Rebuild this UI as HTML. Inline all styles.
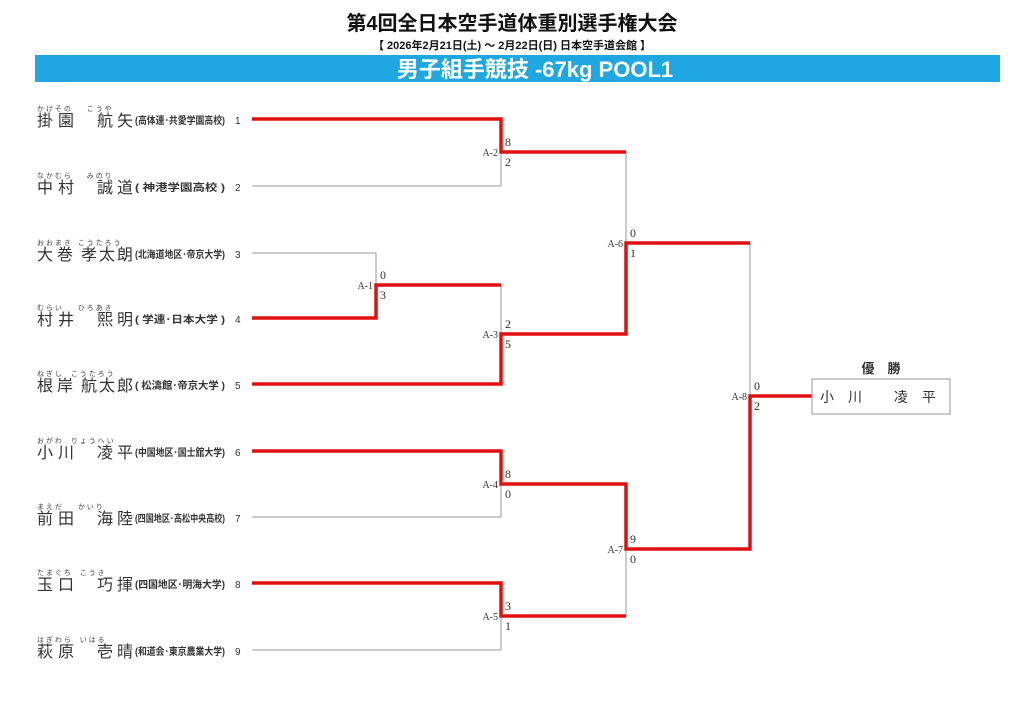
<!DOCTYPE html>
<html><head><meta charset="utf-8"><style>
html,body{margin:0;padding:0;background:#fff;}
svg{display:block;font-family:"Liberation Sans","Noto Sans CJK JP",sans-serif;}
.n{font-size:16px;fill:#333;}
.r{font-size:7px;fill:#444;}
.a{font-size:10px;fill:#333;font-weight:bold;}
.num{font-size:10px;fill:#333;}
.s{font-family:"Liberation Serif","Noto Serif CJK SC",serif;font-size:12px;fill:#333;}
.l{font-family:"Liberation Serif",serif;font-size:10px;fill:#333;}
.g{stroke:#999;stroke-width:1;fill:none;}
.red{stroke:#e01010;stroke-width:3.5;fill:none;}
</style></head><body>
<svg width="1024" height="724" viewBox="0 0 1024 724">
<text x="512" y="30" text-anchor="middle" font-size="20" font-weight="bold" fill="#111">第4回全日本空手道体重別選手権大会</text>
<text x="512" y="49" text-anchor="middle" font-size="11" font-weight="bold" fill="#111">【 2026年2月21日(土) ～ 2月22日(日)  日本空手道会館 】</text>
<rect x="35" y="55" width="965" height="27" fill="#1ea7e1"/>
<text x="535" y="77" text-anchor="middle" font-size="22" font-weight="bold" fill="#fff">男子組手競技 -67kg POOL1</text>

<g>
<text class="r" x="37" y="111">か け そ の　　 こ う や</text>
<text class="n" x="37" y="126">掛</text><text class="n" x="58" y="126">園</text><text class="n" x="97" y="126">航</text><text class="n" x="117" y="126">矢</text>
<text class="a" x="135" y="124" textLength="90" lengthAdjust="spacingAndGlyphs">(高体連･共愛学園高校)</text><text class="num" x="235" y="124">1</text>

<text class="r" x="37" y="178">な か む ら　　 み の り</text>
<text class="n" x="37" y="193">中</text><text class="n" x="58" y="193">村</text><text class="n" x="97" y="193">誠</text><text class="n" x="117" y="193">道</text>
<text class="a" x="135" y="191" textLength="90" lengthAdjust="spacingAndGlyphs">( 神港学園高校 )</text><text class="num" x="235" y="191">2</text>

<text class="r" x="37" y="245">お お ま き　こ う た ろ う</text>
<text class="n" x="37" y="260">大</text><text class="n" x="57" y="260">巻</text><text class="n" x="81" y="260">孝</text><text class="n" x="99" y="260">太</text><text class="n" x="117" y="260">朗</text>
<text class="a" x="135" y="258" textLength="90" lengthAdjust="spacingAndGlyphs">(北海道地区･帝京大学)</text><text class="num" x="235" y="258">3</text>

<text class="r" x="37" y="310">む ら い　　 ひ ろ あ き</text>
<text class="n" x="37" y="325">村</text><text class="n" x="58" y="325">井</text><text class="n" x="97" y="325">熙</text><text class="n" x="117" y="325">明</text>
<text class="a" x="135" y="323" textLength="90" lengthAdjust="spacingAndGlyphs">( 学連･日本大学 )</text><text class="num" x="235" y="323">4</text>

<text class="r" x="37" y="376">ね ぎ し　 こ う た ろ う</text>
<text class="n" x="37" y="391">根</text><text class="n" x="57" y="391">岸</text><text class="n" x="81" y="391">航</text><text class="n" x="99" y="391">太</text><text class="n" x="117" y="391">郎</text>
<text class="a" x="135" y="389" textLength="90" lengthAdjust="spacingAndGlyphs">( 松濤館･帝京大学 )</text><text class="num" x="235" y="389">5</text>

<text class="r" x="37" y="443">お が わ　 り ょ う へ い</text>
<text class="n" x="37" y="458">小</text><text class="n" x="58" y="458">川</text><text class="n" x="97" y="458">凌</text><text class="n" x="117" y="458">平</text>
<text class="a" x="135" y="456" textLength="90" lengthAdjust="spacingAndGlyphs">(中国地区･国士舘大学)</text><text class="num" x="235" y="456">6</text>

<text class="r" x="37" y="509">ま え だ　　 か い り</text>
<text class="n" x="37" y="524">前</text><text class="n" x="58" y="524">田</text><text class="n" x="97" y="524">海</text><text class="n" x="117" y="524">陸</text>
<text class="a" x="135" y="522" textLength="90" lengthAdjust="spacingAndGlyphs">(四国地区･高松中央高校)</text><text class="num" x="235" y="522">7</text>

<text class="r" x="37" y="575">た ま ぐ ち　 こ う き</text>
<text class="n" x="37" y="590">玉</text><text class="n" x="58" y="590">口</text><text class="n" x="97" y="590">巧</text><text class="n" x="117" y="590">揮</text>
<text class="a" x="135" y="588" textLength="90" lengthAdjust="spacingAndGlyphs">(四国地区･明海大学)</text><text class="num" x="235" y="588">8</text>

<text class="r" x="37" y="642">は ぎ わ ら　 い は る</text>
<text class="n" x="37" y="657">萩</text><text class="n" x="58" y="657">原</text><text class="n" x="97" y="657">壱</text><text class="n" x="117" y="657">晴</text>
<text class="a" x="135" y="655" textLength="90" lengthAdjust="spacingAndGlyphs">(和道会･東京農業大学)</text><text class="num" x="235" y="655">9</text>
</g>

<path class="g" d="M252 186H501V152 M252 253H376V285 M501 285V334 M626 152V243 M626 549V616 M252 517H501V484 M252 650H501V616 M750 243V396"/>
<path class="red" d="M252 119H501V152H626"/>
<path class="red" d="M252 318H376V285H501"/>
<path class="red" d="M252 384H501V334H626V243H750"/>
<path class="red" d="M252 451H501V484H626V549H750V396H812"/>
<path class="red" d="M252 583H501V616H626"/>

<rect x="812" y="379" width="138" height="35" fill="#fff" stroke="#999" stroke-width="1"/>
<text x="820" y="402" font-size="14" fill="#333">小　川　　 凌　平</text>
<text x="881" y="373" text-anchor="middle" font-size="13" font-weight="bold" fill="#333">優　勝</text>

<g>
<text class="l" x="373" y="289" text-anchor="end">A-1</text><text class="s" x="380" y="279">0</text><text class="s" x="380" y="299">3</text>
<text class="l" x="498" y="156" text-anchor="end">A-2</text><text class="s" x="505" y="146">8</text><text class="s" x="505" y="166">2</text>
<text class="l" x="498" y="338" text-anchor="end">A-3</text><text class="s" x="505" y="328">2</text><text class="s" x="505" y="348">5</text>
<text class="l" x="498" y="488" text-anchor="end">A-4</text><text class="s" x="505" y="478">8</text><text class="s" x="505" y="498">0</text>
<text class="l" x="498" y="620" text-anchor="end">A-5</text><text class="s" x="505" y="610">3</text><text class="s" x="505" y="630">1</text>
<text class="l" x="623" y="247" text-anchor="end">A-6</text><text class="s" x="630" y="237">0</text><text class="s" x="630" y="257">1</text>
<text class="l" x="623" y="553" text-anchor="end">A-7</text><text class="s" x="630" y="543">9</text><text class="s" x="630" y="563">0</text>
<text class="l" x="747" y="400" text-anchor="end">A-8</text><text class="s" x="754" y="390">0</text><text class="s" x="754" y="410">2</text>
</g>
</svg>
</body></html>
